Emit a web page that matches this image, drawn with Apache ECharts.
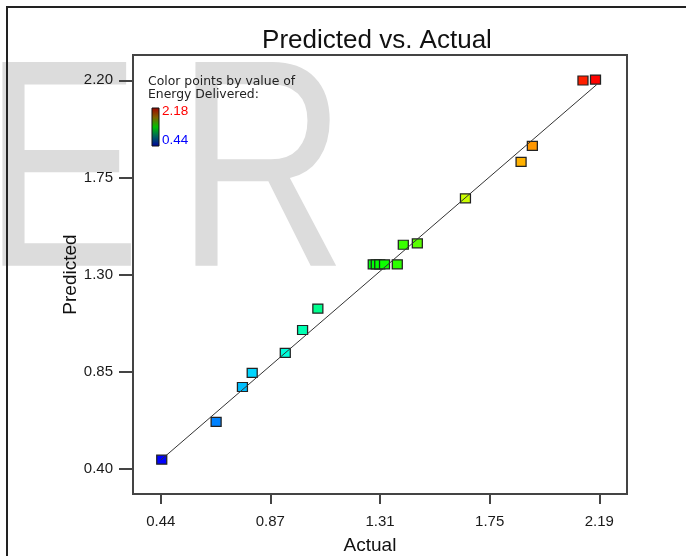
<!DOCTYPE html>
<html><head><meta charset="utf-8">
<script src="https://cdn.jsdelivr.net/npm/echarts@6/dist/echarts.min.js"></script>
<style>html,body{margin:0;padding:0;background:#fff}#c{width:686px;height:556px}</style>
</head><body><div id="c"></div>
<script>
// Actual (x) vs Predicted (y) Energy Delivered
const actual    = [0.444, 0.661, 0.766, 0.805, 0.937, 1.006, 1.067, 1.288, 1.300, 1.314, 1.333, 1.384, 1.408, 1.464, 1.656, 1.878, 1.923, 2.125, 2.175];
const predicted = [0.442, 0.617, 0.779, 0.844, 0.937, 1.043, 1.142, 1.347, 1.347, 1.347, 1.347, 1.347, 1.438, 1.444, 1.653, 1.822, 1.896, 2.199, 2.203];
const xTickValues = [0.44, 0.8775, 1.315, 1.7525, 2.19];
const xTickLabels = ['0.44', '0.87', '1.31', '1.75', '2.19'];
const yTickValues = [0.40, 0.85, 1.30, 1.75, 2.20];
const yTickLabels = ['0.40', '0.85', '1.30', '1.75', '2.20'];
const colorRange = [0.44, 2.18];
const fitLine = [0.44, 2.18];

const FONT = 'Liberation Sans, Arial, sans-serif';
const chart = echarts.init(document.getElementById('c'));
const points = actual.map((a, i) => [a, predicted[i]]);

chart.setOption({
  animation: false,
  backgroundColor: '#fff',
  grid: { left: 133, top: 55, right: 59, bottom: 62, outerBoundsMode: 'none', containLabel: false,
    show: true, borderColor: '#444', borderWidth: 2, backgroundColor: 'transparent', z: 3 },
  xAxis: {
    type: 'value', min: 0.3293, max: 2.3007,
    name: 'Actual', nameLocation: 'middle', nameGap: 42,
    nameTextStyle: { fontFamily: FONT, fontSize: 19, color: '#111', padding: [0, 20, 0, 0] },
    axisLine: { show: false },
    splitLine: { show: false },
    axisTick: { show: true, length: 10, customValues: xTickValues, lineStyle: { color: '#444', width: 2 } },
    axisLabel: { customValues: xTickValues, margin: 20, fontFamily: FONT, fontSize: 15, color: '#1a1a1a',
      formatter: v => { const i = xTickValues.findIndex(t => Math.abs(t - v) < 1e-6); return i >= 0 ? xTickLabels[i] : ''; } }
  },
  yAxis: {
    type: 'value', min: 0.283, max: 2.317,
    name: 'Predicted', nameLocation: 'middle', nameGap: 53, nameMoveOverlap: false,
    nameTextStyle: { fontFamily: FONT, fontSize: 19, color: '#111' },
    axisLine: { show: false },
    splitLine: { show: false },
    axisTick: { show: true, length: 14, customValues: yTickValues, lineStyle: { color: '#444', width: 2 } },
    axisLabel: { customValues: yTickValues, margin: 20, fontFamily: FONT, fontSize: 15, color: '#1a1a1a',
      formatter: v => { const i = yTickValues.findIndex(t => Math.abs(t - v) < 1e-6); return i >= 0 ? yTickLabels[i] : ''; } }
  },
  visualMap: {
    show: false, type: 'continuous', dimension: 0, seriesIndex: 0,
    min: colorRange[0], max: colorRange[1],
    inRange: { color: ['#0000ff', '#00ffff', '#00ff00', '#ffff00', '#ff0000'] }
  },
  graphic: [
    { type: 'text', z: 0, silent: true, x: -17, y: 36, scaleY: 1.25, style: { text: 'E', x: 0, y: 0, font: '237px ' + FONT, fill: '#dcdcdc' } },
    { type: 'text', z: 0, silent: true, x: 176, y: 36, scaleY: 1.25, style: { text: 'R', x: 0, y: 0, font: '237px ' + FONT, fill: '#dcdcdc' } },
    { type: 'polyline', z: 10, shape: { points: [[7, 556], [7, 7], [686, 7]] }, style: { stroke: '#222', lineWidth: 2, fill: null } },
    { type: 'text', z: 10, style: { text: 'Predicted vs. Actual', x: 377, y: 41, textAlign: 'center', textVerticalAlign: 'middle', font: '26px ' + FONT, fill: '#111' } },
    { type: 'text', z: 10, style: { text: 'Color points by value of', x: 148, y: 82, textVerticalAlign: 'middle', font: '12.4px DejaVu Sans, sans-serif', fill: '#222' } },
    { type: 'text', z: 10, style: { text: 'Energy Delivered:', x: 148, y: 95, textVerticalAlign: 'middle', font: '12.4px DejaVu Sans, sans-serif', fill: '#222' } },
    { type: 'rect', z: 10, shape: { x: 152, y: 108, width: 7, height: 38 },
      style: { stroke: '#111', lineWidth: 1,
        fill: new echarts.graphic.LinearGradient(0, 0, 0, 1, [
          { offset: 0, color: '#a00000' }, { offset: 0.25, color: '#806000' }, { offset: 0.5, color: '#00c000' },
          { offset: 0.75, color: '#006060' }, { offset: 1, color: '#0000a0' }]) } },
    { type: 'text', z: 10, style: { text: String(colorRange[1]), x: 162, y: 111, textVerticalAlign: 'middle', font: '13.5px ' + FONT, fill: '#ff0000' } },
    { type: 'text', z: 10, style: { text: String(colorRange[0]), x: 162, y: 140, textVerticalAlign: 'middle', font: '13.5px ' + FONT, fill: '#0000ff' } }
  ],
  series: [
    { type: 'scatter', z: 4, symbol: 'rect', symbolSize: [10, 9], data: points,
      itemStyle: { borderColor: '#222', borderWidth: 1.2, opacity: 1 } },
    { type: 'line', z: 5, data: fitLine.map(v => [v, v]), symbol: 'none', silent: true,
      lineStyle: { color: '#333', width: 1 } }
  ]
});
</script></body></html>
